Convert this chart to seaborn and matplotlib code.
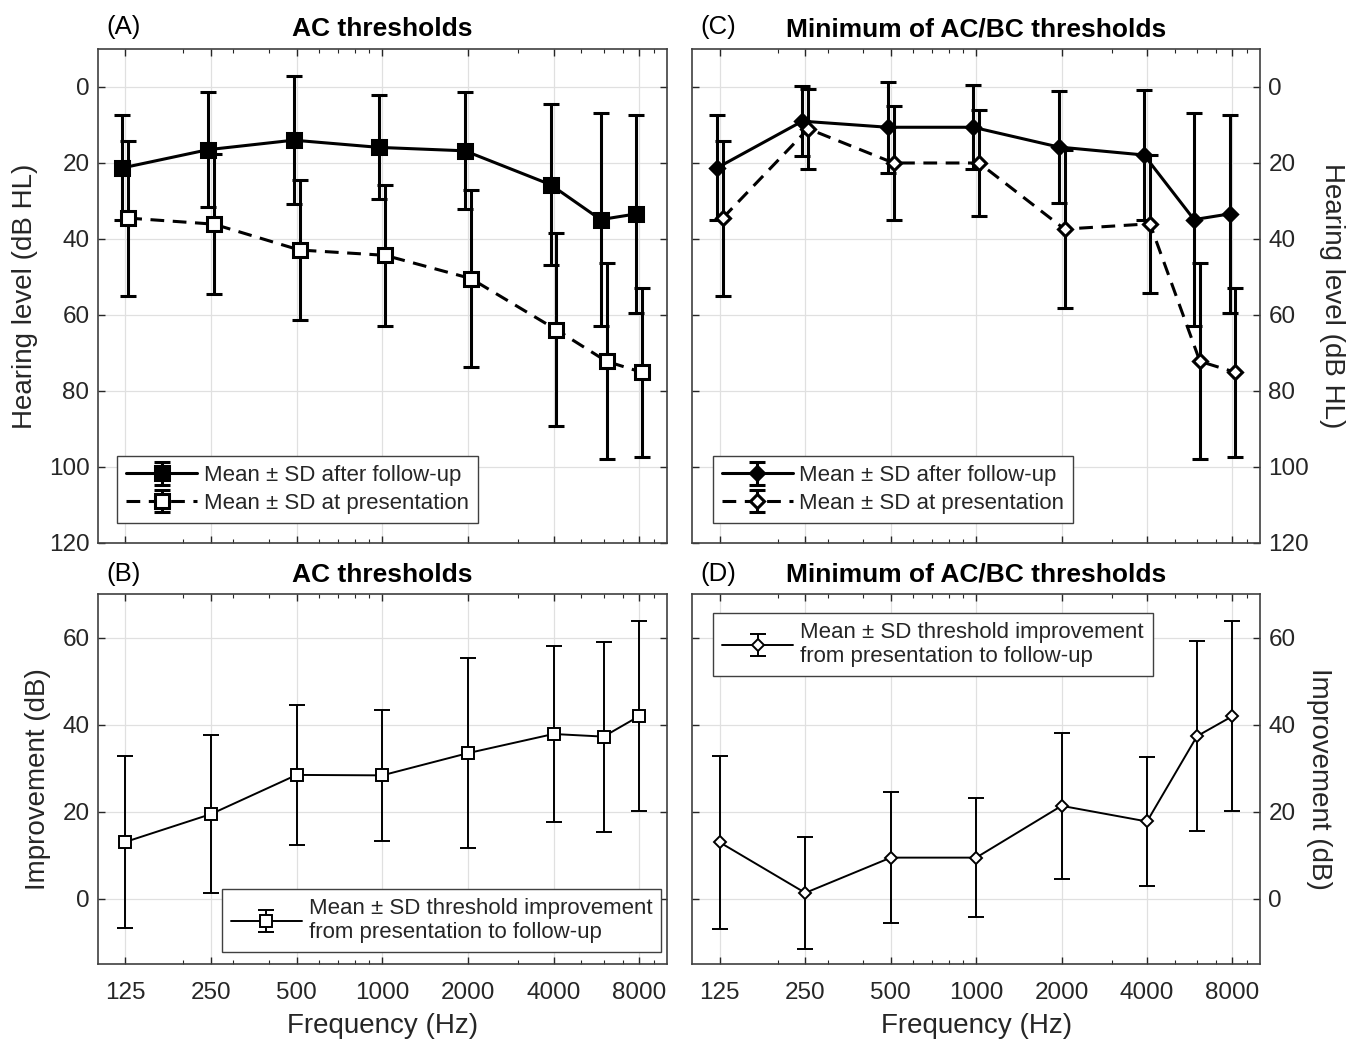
import numpy as np
import seaborn as sns
import matplotlib
matplotlib.use("Agg")
import matplotlib.pyplot as plt
from matplotlib.transforms import offset_copy
from matplotlib.ticker import FixedLocator, LogLocator, NullFormatter

# frequencies (Hz) and axis tick labels
freqs = [125, 250, 500, 1000, 2000, 4000, 6000, 8000]
tick_freqs = [125, 250, 500, 1000, 2000, 4000, 8000]
tick_labels = ["125", "250", "500", "1000", "2000", "4000", "8000"]

# (A) AC thresholds, dB HL
ac_follow_mean = [21.3, 16.5, 14.0, 15.9, 16.8, 25.7, 34.9, 33.4]
ac_follow_sd = [13.8, 15.1, 16.9, 13.7, 15.4, 21.1, 28.1, 26.1]
ac_pres_mean = [34.5, 36.1, 42.9, 44.3, 50.4, 63.9, 72.2, 75.1]
ac_pres_sd = [20.4, 18.5, 18.5, 18.5, 23.2, 25.4, 25.8, 22.3]

# (C) minimum of AC/BC thresholds, dB HL
min_follow_mean = [21.3, 9.0, 10.6, 10.6, 15.8, 17.9, 34.9, 33.4]
min_follow_sd = [13.8, 9.2, 12.0, 11.0, 14.7, 17.0, 28.1, 26.1]
min_pres_mean = [34.5, 11.0, 20.0, 20.0, 37.4, 36.0, 72.2, 75.1]
min_pres_sd = [20.4, 10.5, 15.0, 14.0, 20.8, 18.1, 25.8, 22.3]

# (B) / (D) improvement, dB
ac_imp_mean = [13.1, 19.5, 28.5, 28.4, 33.5, 37.9, 37.3, 42.0]
ac_imp_sd = [19.8, 18.1, 16.0, 15.0, 21.9, 20.2, 21.8, 21.8]
min_imp_mean = [13.0, 1.4, 9.5, 9.5, 21.4, 17.8, 37.4, 42.0]
min_imp_sd = [19.8, 12.8, 15.0, 13.7, 16.8, 14.9, 21.8, 21.8]

label_follow = "Mean \u00b1 SD after follow-up"
label_pres = "Mean \u00b1 SD at presentation"
label_imp = "Mean \u00b1 SD threshold improvement\nfrom presentation to follow-up"

INK = "#262626"
DODGE = 1.024

sns.set_style("whitegrid")
plt.rcParams["font.family"] = ["Liberation Sans", "DejaVu Sans"]
plt.rcParams["axes.edgecolor"] = "#404040"
plt.rcParams["axes.linewidth"] = 1.2


def draw_series(ax, x, mean, sd, marker, filled, dashed, lw, ms, capsize, label):
    face = "black" if filled else "white"
    ls = (0, (4.5, 2.8)) if dashed else "-"
    ax.errorbar(x, mean, yerr=sd, fmt="none", ecolor="black", elinewidth=lw,
                capsize=capsize, capthick=lw, zorder=2)
    sns.lineplot(x=x, y=mean, ax=ax, color="black", linewidth=lw, linestyle=ls,
                 marker=marker, markersize=ms, markerfacecolor=face,
                 markeredgecolor="black", markeredgewidth=lw, errorbar=None,
                 legend=False, zorder=3)
    # proxy artist so the legend shows the errorbar glyph
    handle = ax.errorbar([np.nan], [np.nan], yerr=[np.nan], color="black", linewidth=lw,
                         linestyle=ls, marker=marker, ms=ms, mfc=face, mec="black", mew=lw,
                         elinewidth=lw, capsize=capsize, capthick=lw, label=label)
    return handle


def style_axis(ax, ylim, yticks, right_side, show_xlabels, ylabel):
    ax.set_xscale("log")
    ax.set_xlim(100, 10000)
    ax.set_ylim(*ylim)
    ax.xaxis.set_major_locator(FixedLocator(tick_freqs))
    ax.xaxis.set_minor_locator(LogLocator(base=10, subs=np.arange(2, 10)))
    ax.xaxis.set_minor_formatter(NullFormatter())
    ax.set_yticks(yticks)
    if show_xlabels:
        ax.set_xticklabels(tick_labels)
        ax.set_xlabel("Frequency (Hz)", fontsize=20, color=INK, labelpad=6)
    else:
        ax.set_xticklabels([])
        ax.set_xlabel("")
    ax.grid(True, which="major", color="#e0e0e0", linewidth=0.9)
    ax.grid(False, which="minor")
    ax.tick_params(axis="both", which="both", direction="in", top=True, bottom=True,
                   left=True, right=True, colors=INK, labelsize=17.5)
    ax.tick_params(axis="both", which="major", length=5, width=1)
    ax.tick_params(axis="x", which="minor", length=3, width=0.8)
    ax.tick_params(axis="x", pad=13)
    if right_side:
        ax.tick_params(axis="y", labelleft=False, labelright=True, pad=6)
        ax.yaxis.set_label_position("right")
        ax.set_ylabel(ylabel, fontsize=20, color=INK, rotation=-90, labelpad=26)
    else:
        ax.tick_params(axis="y", pad=6)
        ax.set_ylabel(ylabel, fontsize=20, color=INK, labelpad=8)


def legend(ax, handles, loc, anchor):
    leg = ax.legend(handles=handles, loc=loc, bbox_to_anchor=anchor, fontsize=16,
                    frameon=True, fancybox=False, framealpha=1, edgecolor="#404040",
                    handlelength=3.2, borderpad=0.4, labelspacing=0.3, handletextpad=0.3,
                    borderaxespad=0)
    leg.get_frame().set_linewidth(1.0)
    for t in leg.get_texts():
        t.set_color(INK)


fig = plt.figure(figsize=(13.48, 10.40), dpi=100)
ax_a = fig.add_axes([0.0725, 0.4779, 0.4221, 0.475])
ax_c = fig.add_axes([0.5136, 0.4779, 0.4211, 0.475])
ax_b = fig.add_axes([0.0725, 0.0728, 0.4221, 0.3558])
ax_d = fig.add_axes([0.5136, 0.0728, 0.4211, 0.3558])

x_left = [f / DODGE for f in freqs]
x_right = [f * DODGE for f in freqs]

# (A)
h1 = draw_series(ax_a, x_left, ac_follow_mean, ac_follow_sd, "s", True, False, 2.2, 9.5, 5.5, label_follow)
h2 = draw_series(ax_a, x_right, ac_pres_mean, ac_pres_sd, "s", False, True, 2.2, 9.5, 5.5, label_pres)
style_axis(ax_a, (120, -10), [0, 20, 40, 60, 80, 100, 120], False, False, "Hearing level (dB HL)")
legend(ax_a, [h1, h2], "lower left", (0.034, 0.041))

# (C)
h1 = draw_series(ax_c, x_left, min_follow_mean, min_follow_sd, "D", True, False, 2.2, 7.5, 5.5, label_follow)
h2 = draw_series(ax_c, x_right, min_pres_mean, min_pres_sd, "D", False, True, 2.2, 7.5, 5.5, label_pres)
style_axis(ax_c, (120, -10), [0, 20, 40, 60, 80, 100, 120], True, False, "Hearing level (dB HL)")
legend(ax_c, [h1, h2], "lower left", (0.036, 0.041))

# (B)
h = draw_series(ax_b, freqs, ac_imp_mean, ac_imp_sd, "s", False, False, 1.4, 8, 6, label_imp)
style_axis(ax_b, (-15, 70), [0, 20, 40, 60], False, True, "Improvement (dB)")
legend(ax_b, [h], "lower right", (0.99, 0.033))

# (D)
h = draw_series(ax_d, freqs, min_imp_mean, min_imp_sd, "D", False, False, 1.4, 6.5, 6, label_imp)
style_axis(ax_d, (-15, 70), [0, 20, 40, 60], True, True, "Improvement (dB)")
legend(ax_d, [h], "upper left", (0.037, 0.949))

for ax, title in [(ax_a, "AC thresholds"), (ax_c, "Minimum of AC/BC thresholds"),
                  (ax_b, "AC thresholds"), (ax_d, "Minimum of AC/BC thresholds")]:
    ax.set_title(title, fontsize=19, fontweight="bold", color="black", pad=9)

for ax, letter, dy in [(ax_a, "(A)", 22), (ax_c, "(C)", 22), (ax_b, "(B)", 20), (ax_d, "(D)", 20)]:
    trans = offset_copy(ax.transAxes, fig=fig, x=0, y=dy, units="dots")
    ax.text(0.015, 1.0, letter, transform=trans, fontsize=18.5, color="black",
            ha="left", va="center")

fig.savefig("out.png", dpi=100)
